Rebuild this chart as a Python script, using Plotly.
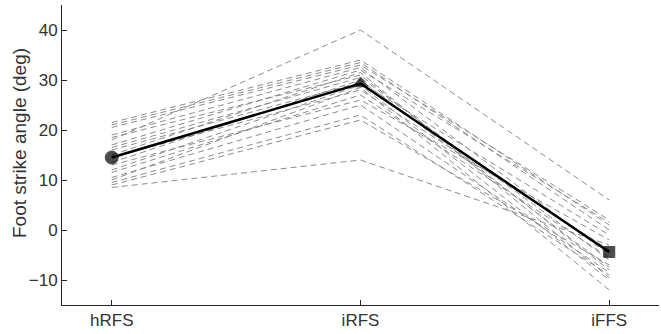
import plotly.graph_objects as go

categories = ["hRFS", "iRFS", "iFFS"]

# individual subjects (foot strike angle, deg)
hRFS = [18.0, 21.5, 20.5, 19.0, 21.0, 18.5, 17.0, 16.5, 16.0, 15.0,
        14.5, 13.5, 13.0, 12.0, 11.5, 10.5, 10.0, 9.5, 9.0, 8.5]
iRFS = [40.0, 34.0, 33.0, 32.5, 33.5, 31.0, 32.0, 30.5, 29.5, 31.5,
        28.0, 30.0, 26.0, 29.0, 27.0, 25.0, 28.5, 23.0, 22.0, 14.0]
iFFS = [6.0, 1.0, 2.0, -5.0, 0.0, -8.0, 1.5, -6.0, -1.0, -9.5,
        -4.0, -7.5, -2.0, -10.0, -5.5, -8.5, -12.0, -9.0, -7.0, -3.0]

mean_vals = [14.5, 29.3, -4.4]
mean_symbols = ["circle", "triangle-up", "square"]

yticks = [-10, 0, 10, 20, 30, 40]

fig = go.Figure()
xpos = list(range(len(categories)))
for a, b, c in zip(hRFS, iRFS, iFFS):
    fig.add_trace(go.Scatter(
        x=xpos, y=[a, b, c], mode="lines",
        line=dict(color="#8c8c8c", width=1, dash="6px,4px"),
        hoverinfo="skip", showlegend=False))

fig.add_trace(go.Scatter(
    x=xpos, y=mean_vals, mode="lines+markers",
    line=dict(color="black", width=2.5),
    marker=dict(symbol=mean_symbols, size=[13, 13, 11], color="black",
                line=dict(color="black", width=1)),
    showlegend=False))

fig.update_layout(
    width=661, height=334,
    margin=dict(l=62, r=2, t=5, b=29),
    plot_bgcolor="white", paper_bgcolor="white",
    font=dict(family="Liberation Sans, Arial, sans-serif", size=17, color="#333333"),
    xaxis=dict(range=[-0.2, 2.2], tickvals=xpos, ticktext=categories,
               showgrid=False, zeroline=False, showline=True,
               linecolor="#262626", linewidth=1,
               ticks="inside", ticklen=5, tickcolor="#262626"),
    yaxis=dict(range=[-15, 45], tickvals=yticks,
               showgrid=False, zeroline=False, showline=True,
               linecolor="#262626", linewidth=1,
               ticks="inside", ticklen=5, tickcolor="#262626"),
    annotations=[dict(text="Foot strike angle (deg)", xref="paper", yref="paper",
                      x=-0.072, y=0.54, xanchor="center", yanchor="middle",
                      textangle=-90, showarrow=False,
                      font=dict(size=19, color="#333333"))],
)

fig.write_html("out.html")
